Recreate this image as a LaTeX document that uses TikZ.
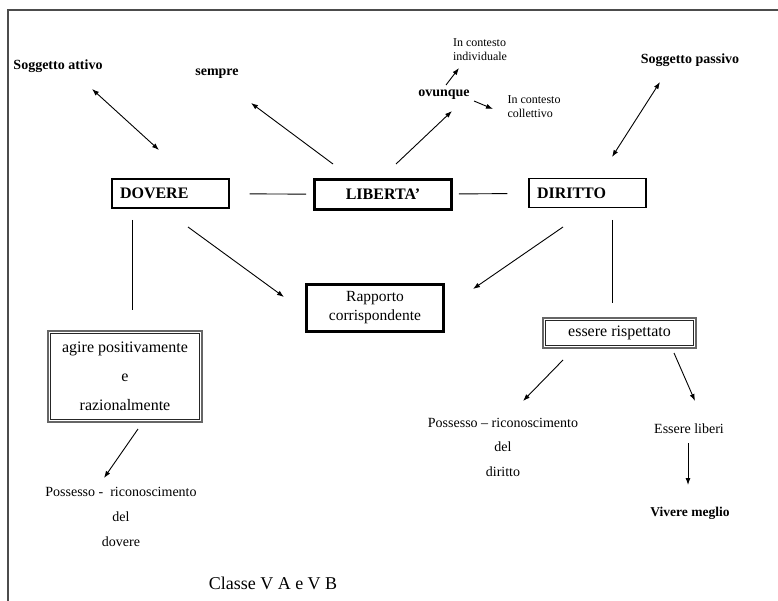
\documentclass[tikz,border=0pt]{standalone}
\usepackage{fontspec}
\setmainfont{Liberation Serif}
\usetikzlibrary{arrows.meta,positioning,calc}

\begin{document}
\begin{tikzpicture}[x=1pt, y=-1pt, >={Latex[length=7pt,width=5pt]},
  lab/.style={inner sep=0pt, font=\bfseries\fontsize{14}{16}\selectfont},
  small/.style={inner sep=0pt, align=left, font=\fontsize{12}{14}\selectfont},
  note/.style={inner sep=0pt, align=center, font=\fontsize{14}{25}\selectfont},
  keybox/.style={draw, rectangle, line width=1.3pt, minimum height=29pt, inner sep=0pt, inner xsep=8pt, text width=101pt, align=left, font=\bfseries\fontsize{16}{18}\selectfont},
  strongbox/.style={draw, rectangle, line width=2.6pt, inner sep=0pt, align=center},
  dblbox/.style={draw=black!60, line width=1.6pt, rectangle, inner sep=0pt, align=center},
  inner/.style={line width=0.8pt, black!85},
  link/.style={line width=0.9pt}]
\useasboundingbox (0,0) rectangle (778,601);
% cornice
\draw[line width=1.5pt, black!70] (8,601) -- (8,10) -- (778,10);

% nodi
\node[lab] (sogatt) at (58,66) {Soggetto attivo};
\node[lab] (sempre) at (217,74) {sempre};
\node[lab] (ovunque) at (444,95) {ovunque};
\node[small] (indiv) at (480,50) {In contesto\\individuale};
\node[small] (coll) at (534,107) {In contesto\\collettivo};
\node[lab] (sogpas) at (690,60) {Soggetto passivo};

\node[keybox] (dovere) at (170.5,193.5) {DOVERE};
\node[strongbox, minimum width=137pt, minimum height=30pt, font=\bfseries\fontsize{16}{18}\selectfont] (liberta) at (383,194.5) {LIBERTA’};
\node[keybox] (diritto) at (587.5,193) {DIRITTO};

\node[strongbox, minimum width=137pt, minimum height=47pt, font=\fontsize{15.5}{19}\selectfont] (rapporto) at (375,308) {Rapporto\\corrispondente};
\node[dblbox, minimum width=154pt, minimum height=91pt, font=\fontsize{16}{29}\selectfont] (agire) at (125,376.5) {agire positivamente\\e\\razionalmente};
\node[dblbox, minimum width=153pt, minimum height=30pt, font=\fontsize{16}{18}\selectfont] (essere) at (619.5,333) {essere rispettato};
\draw[inner] ($(agire.north west)+(3.2,3.2)$) rectangle ($(agire.south east)+(-3.2,-3.2)$);
\draw[inner] ($(essere.north west)+(3.2,3.2)$) rectangle ($(essere.south east)+(-3.2,-3.2)$);

\node[note] (possdov) at (121,517) {Possesso -~ riconoscimento\\del\\dovere};
\node[note, font=\fontsize{14}{24.5}\selectfont] (possdir) at (503,447) {Possesso – riconoscimento\\del\\diritto};
\node[note] (liberi) at (689,429) {Essere liberi};
\node[lab, font=\bfseries\fontsize{13.5}{16}\selectfont] (meglio) at (690,513) {Vivere meglio};
\node[inner sep=0pt, font=\fontsize{18}{20}\selectfont] (classe) at (273,583) {Classe V A e V B};

% collegamenti
\draw[link, <->] ($(sogatt)+(34,23)$) -- ($(dovere)+(-11.5,-43.5)$);
\draw[link, ->] ($(liberta)+(-50,-30.5)$) -- ($(sempre)+(34,29)$);
\draw[link, ->] ($(liberta)+(13,-30.5)$) -- ($(ovunque)+(8,16)$);
\draw[link, ->] ($(ovunque)+(2,-10)$) -- ($(indiv)+(-21,18)$);
\draw[link, ->] ($(ovunque)+(30,6)$) -- ($(coll)+(-41,2)$);
\draw[link, <->] ($(sogpas)+(-30,22)$) -- ($(diritto)+(24.5,-36)$);

\draw[link, shorten <=20pt, shorten >=7pt] (dovere) -- (liberta);
\draw[link, shorten <=6pt, shorten >=21pt] (liberta) -- (diritto);

\draw[link] ($(dovere)+(-38.5,26.5)$) -- ($(agire)+(7,-66.5)$);
\draw[link, ->] ($(dovere)+(17.5,33.5)$) -- ($(rapporto)+(-91,-11)$);
\draw[link, ->] ($(diritto)+(-24.5,34)$) -- ($(rapporto)+(98,-19)$);
\draw[link] ($(diritto)+(24.5,27)$) -- ($(essere)+(-7.5,-30)$);

\draw[link, ->] ($(agire)+(13,52.5)$) -- ($(possdov)+(-17,-39)$);
\draw[link, ->] ($(essere)+(-56.5,27)$) -- ($(possdir)+(20,-46)$);
\draw[link, ->] ($(essere)+(54.5,20)$) -- ($(liberi)+(6,-28)$);
\draw[link, ->] ($(liberi)+(-1,14)$) -- ($(meglio)+(-2,-28)$);
\end{tikzpicture}
\end{document}
